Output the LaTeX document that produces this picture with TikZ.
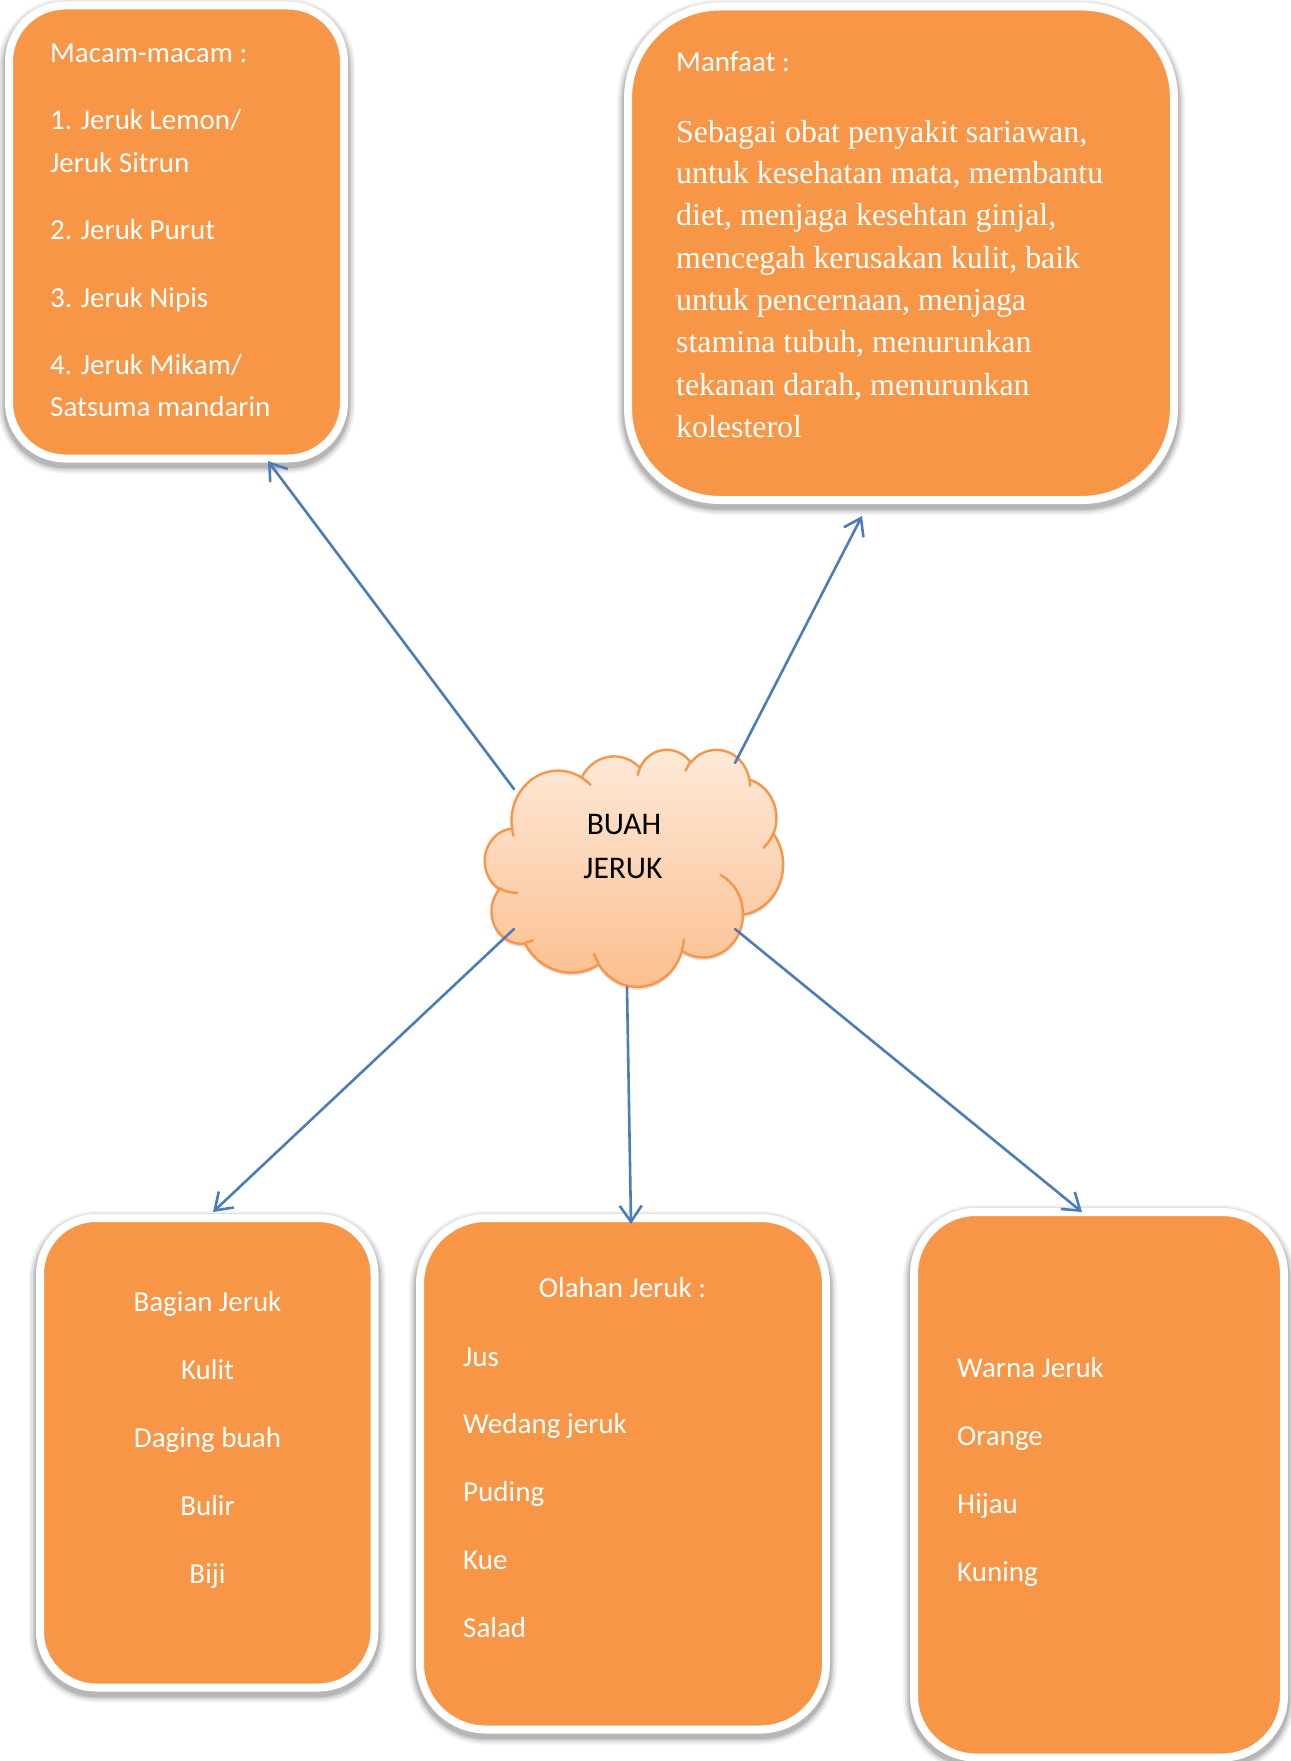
\documentclass[tikz,border=0pt]{standalone}
\usepackage{fontspec}
\setmainfont{Carlito}
\newfontfamily\timesf{Liberation Serif}
\usetikzlibrary{arrows.meta}
\definecolor{boxorange}{HTML}{F79646}
\definecolor{arrowblue}{HTML}{4A7EBB}
\definecolor{cloudtop}{HTML}{FDEADA}
\definecolor{cloudbot}{HTML}{FBBE8D}
% visual (OOXML) angle -> parametric angle for elliptical arcs
\newcommand\mkarc[5]{%
  \pgfmathsetmacro\mkarcS{atan2((#2)*sin(#4),(#3)*cos(#4))}%
  \pgfmathsetmacro\mkarcE{atan2((#2)*sin((#4)+(#5)),(#3)*cos((#4)+(#5)))}%
  \pgfmathsetmacro\mkarcD{mod((\mkarcE)-(\mkarcS)+720,360)}%
  \expandafter\global\expandafter\let\csname clS#1\endcsname\mkarcS
  \expandafter\global\expandafter\let\csname clD#1\endcsname\mkarcD}
\mkarc{A}{675.3}{919.0}{-190.487}{123.781}
\mkarc{B}{533.3}{726.7}{-144.102}{89.945}
\mkarc{C}{436.5}{594.5}{-145.808}{99.723}
\mkarc{D}{485.7}{659.5}{-130.986}{117.242}
\mkarc{E}{533.3}{727.3}{-78.709}{109.027}
\mkarc{F}{677.5}{922.0}{-46.267}{130.269}
\mkarc{G}{578.5}{786.7}{0.625}{114.033}
\mkarc{H}{675.2}{921.5}{22.452}{115.173}
\mkarc{I}{772.0}{1054.3}{66.243}{75.711}
\mkarc{J}{436.0}{591.8}{-274.942}{146.736}
\mkarc{K}{434.5}{594.5}{-246.829}{152.519}
\mkarc{a}{434.5}{594.5}{86.742}{26.430}
\mkarc{b}{436.0}{591.8}{73.610}{11.447}
\mkarc{c}{675.2}{921.5}{137.624}{14.081}
\mkarc{d}{675.2}{921.5}{6.453}{15.998}
\mkarc{e}{578.5}{786.7}{-70.292}{70.917}
\mkarc{f}{533.3}{727.3}{30.318}{27.752}
\mkarc{g}{485.7}{659.5}{-13.744}{14.859}
\mkarc{h}{485.7}{659.5}{-149.181}{18.195}
\mkarc{i}{436.5}{594.5}{-163.494}{17.686}
\mkarc{j}{675.3}{919.0}{-66.707}{12.319}
\mkarc{k}{675.3}{919.0}{157.654}{11.858}
\newcommand\oa[3]{arc[x radius=#1, y radius=#2, start angle=\csname clS#3\endcsname, delta angle=\csname clD#3\endcsname]}
\begin{document}
\begin{tikzpicture}[x=1pt,y=-1pt,
  box/.style={rectangle, draw=white, line width=8pt, fill=boxorange, inner sep=0pt,
    preaction={draw=black, opacity=0.05, line width=22pt, transform canvas={yshift=-4pt}},
    preaction={draw=black, opacity=0.07, line width=18pt, transform canvas={yshift=-4pt}},
    preaction={draw=black, opacity=0.09, line width=14pt, transform canvas={yshift=-4pt}},
    preaction={draw=black, opacity=0.10, line width=11pt, transform canvas={yshift=-4pt}}},
  cal/.style={inner sep=0pt, text=white, font=\fontsize{29}{35}\selectfont},
  calL/.style={cal, anchor=base west},
  calC/.style={cal, anchor=base},
  tim/.style={inner sep=0pt, text=white, anchor=base west, font=\timesf\fontsize{31.9}{42}\selectfont},
  cloudtxt/.style={inner sep=0pt, anchor=base, text=black, font=\fontsize{31.5}{38}\selectfont},
  cloudfill/.style={draw=boxorange, line width=2.4pt, line join=round, top color=cloudtop, bottom color=cloudbot,
    preaction={fill=black, opacity=0.12, transform canvas={yshift=-3pt}}},
  cloudline/.style={draw=boxorange, line width=2.4pt, line cap=round},
  conn/.style={draw=arrowblue, line width=2.6pt, line cap=round, -{Straight Barb[length=16pt,width=22pt]}}]
\useasboundingbox (0,0) rectangle (1290,1761);
\fill[white] (0,0) rectangle (1290,1761);

% boxes
\node[box, minimum width=335pt, minimum height=453pt, rounded corners=56pt] (macam) at (176.5,232) {};
\node[box, minimum width=546pt, minimum height=493.5pt, rounded corners=92pt] (manfaat) at (901,253.25) {};
\node[box, minimum width=334.5pt, minimum height=469.5pt, rounded corners=56pt] (bagian) at (207.25,1452.75) {};
\node[box, minimum width=406pt, minimum height=511.5pt, rounded corners=66pt] (olahan) at (623,1473.75) {};
\node[box, minimum width=370pt, minimum height=545.5pt, rounded corners=62pt] (warna) at (1099,1484.75) {};

% box 1 text
\node[calL] (m0) at (50,63) {Macam-macam :};
\node[calL] (m1) at (50,129) {1. Jeruk Lemon/};
\node[calL] (m2) at (50,172) {Jeruk Sitrun};
\node[calL] (m3) at (50,239) {2. Jeruk Purut};
\node[calL] (m4) at (50,307) {3. Jeruk Nipis};
\node[calL] (m5) at (50,374) {4. Jeruk Mikam/};
\node[calL] (m6) at (50,416) {Satsuma mandarin};

% box 2 text
\node[calL] (f0) at (676,71) {Manfaat :};
\node[tim] (f1) at (676,142) {Sebagai obat penyakit sariawan,};
\node[tim] (f2) at (676,183.5) {untuk kesehatan mata, membantu};
\node[tim] (f3) at (676,225.7) {diet, menjaga kesehtan ginjal,};
\node[tim] (f4) at (676,268.2) {mencegah kerusakan kulit, baik};
\node[tim] (f5) at (676,310.7) {untuk pencernaan, menjaga};
\node[tim] (f6) at (676,352.8) {stamina tubuh, menurunkan};
\node[tim] (f7) at (676,395) {tekanan darah, menurunkan};
\node[tim] (f8) at (676,437) {kolesterol};

% box 3 text
\node[calC] (b0) at (207.5,1311) {Bagian Jeruk};
\node[calC] (b1) at (207.5,1379) {Kulit};
\node[calC] (b2) at (207.5,1447) {Daging buah};
\node[calC] (b3) at (207.5,1515) {Bulir};
\node[calC] (b4) at (207.5,1583) {Biji};

% box 4 text
\node[calC] (o0) at (622.5,1297) {Olahan Jeruk :};
\node[calL] (o1) at (463,1366) {Jus};
\node[calL] (o2) at (463,1433) {Wedang jeruk};
\node[calL] (o3) at (463,1501) {Puding};
\node[calL] (o4) at (463,1569) {Kue};
\node[calL] (o5) at (463,1637) {Salad};

% box 5 text
\node[calL] (w0) at (957,1377) {Warna Jeruk};
\node[calL] (w1) at (957,1445) {Orange};
\node[calL] (w2) at (957,1513) {Hijau};
\node[calL] (w3) at (957,1581) {Kuning};

% cloud
\begin{scope}[shift={(485,749)}, x=0.06898pt, y=-0.05486pt]
\path[cloudfill] (390,1437) \oa{675.3}{919.0}{A} \oa{533.3}{726.7}{B} \oa{436.5}{594.5}{C}
  \oa{485.7}{659.5}{D} \oa{533.3}{727.3}{E} \oa{677.5}{922.0}{F} \oa{578.5}{786.7}{G}
  \oa{675.2}{921.5}{H} \oa{772.0}{1054.3}{I} \oa{436.0}{591.8}{J} \oa{434.5}{594.5}{K} -- cycle;
\path[cloudline] (469.3,2617.7) \oa{434.5}{594.5}{a}
  (692.8,3489.9) \oa{436.0}{591.8}{b}
  (1647.8,3909.0) \oa{675.2}{921.5}{c}
  (2882.7,3475.1) \oa{675.2}{921.5}{d}
  (3412.9,2295.4) \oa{578.5}{786.7}{e}
  (4179.8,1535.4) \oa{533.3}{727.3}{f}
  (3832.4,542.6) \oa{485.7}{659.5}{g}
  (2907.8,395.2) \oa{485.7}{659.5}{h}
  (2214.1,472.0) \oa{436.5}{594.5}{i}
  (1400.0,519.2) \oa{675.3}{919.0}{j}
  (412.7,1578.9) \oa{675.3}{919.0}{k};
\end{scope}
\node[cloudtxt] (cl1) at (624,834) {BUAH};
\node[cloudtxt] (cl2) at (623,878) {JERUK};

% connectors
\coordinate (s1) at (514,789); \coordinate (e1) at (268,461);
\coordinate (s2) at (735,763); \coordinate (e2) at (862,516);
\coordinate (s3) at (514,929); \coordinate (e3) at (213,1212);
\coordinate (s4) at (627,987); \coordinate (e4) at (631,1224);
\coordinate (s5) at (735,929); \coordinate (e5) at (1082,1212);
\draw[conn] (s1) -- (e1);
\draw[conn] (s2) -- (e2);
\draw[conn] (s3) -- (e3);
\draw[conn] (s4) -- (e4);
\draw[conn] (s5) -- (e5);
\end{tikzpicture}
\end{document}
